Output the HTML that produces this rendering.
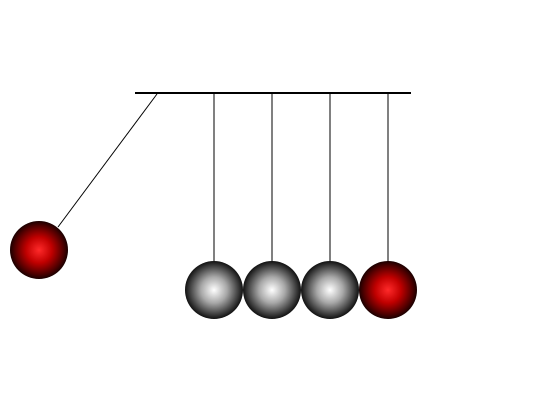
<!DOCTYPE html>
<html>
<head>
<meta charset="utf-8">
<style>
  html,body{margin:0;padding:0;background:#fff;}
  svg{display:block;}
</style>
</head>
<body>
<svg width="550" height="400" viewBox="0 0 550 400">
  <defs>
    <radialGradient id="grey" cx="50%" cy="50%" r="50%" fx="50%" fy="50%">
      <stop offset="0%" stop-color="#ffffff"/>
      <stop offset="45%" stop-color="#a8a8a8"/>
      <stop offset="85%" stop-color="#3a3a3a"/>
      <stop offset="100%" stop-color="#111"/>
    </radialGradient>
    <radialGradient id="red" cx="50%" cy="50%" r="50%" fx="50%" fy="50%">
      <stop offset="0%" stop-color="#ff2a2a"/>
      <stop offset="45%" stop-color="#c00000"/>
      <stop offset="85%" stop-color="#4a0000"/>
      <stop offset="100%" stop-color="#1a0000"/>
    </radialGradient>
  </defs>
  <rect x="0" y="0" width="550" height="400" fill="#fff"/>
  <line x1="135" y1="93" x2="411" y2="93" stroke="#000" stroke-width="2"/>

  <line x1="157" y1="94" x2="58" y2="227" stroke="#000" stroke-width="1"/>
  <line x1="214" y1="94" x2="214" y2="262" stroke="#000" stroke-width="1"/>
  <line x1="272" y1="94" x2="272" y2="262" stroke="#000" stroke-width="1"/>
  <line x1="330" y1="94" x2="330" y2="262" stroke="#000" stroke-width="1"/>
  <line x1="388" y1="94" x2="388" y2="262" stroke="#000" stroke-width="1"/>

  <circle cx="39" cy="250" r="29" fill="url(#red)"/>
  <circle cx="214" cy="290" r="29" fill="url(#grey)"/>
  <circle cx="272" cy="290" r="29" fill="url(#grey)"/>
  <circle cx="330" cy="290" r="29" fill="url(#grey)"/>
  <circle cx="388" cy="290" r="29" fill="url(#red)"/>
</svg>
</body>
</html>
